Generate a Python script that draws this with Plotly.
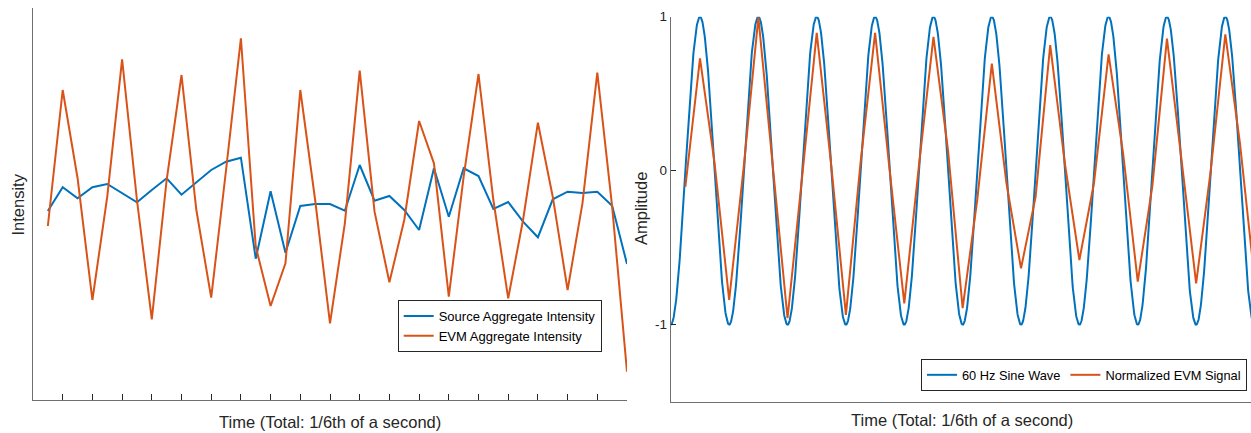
import numpy as np
import plotly.graph_objects as go

# ---------------- data ----------------
# Left panel: 40 frames (240 fps over 1/6 s), arbitrary intensity units
frames = list(range(1, 41))
source_intensity = [189, 212.7, 201.7, 212.7, 216, 206.7, 197.7, 210, 221.7, 205.3,
                    217.3, 230, 238.3, 242.3, 141.3, 208.7, 147.3, 194, 196, 196,
                    189.3, 235, 199.3, 204, 190, 170, 231.7, 183.3, 231.7, 224,
                    191, 198, 178.3, 162.7, 200.7, 208.3, 207, 208.3, 194.3, 136]
evm_intensity = [174, 310, 222, 100, 203.3, 340.7, 200, 80.7, 220, 325,
                 190, 102.3, 230, 361.7, 153.3, 94, 136.7, 310, 200, 76.7,
                 176.7, 329.3, 188.3, 117.7, 180, 279, 236.7, 103.3, 223.3, 326,
                 200, 101.7, 180, 277.3, 203.3, 110, 196.7, 327.3, 193.3, 28.3]

# Right panel: normalized EVM signal sampled at 240 Hz
sample_rate = 240
evm_norm = [-0.104, 0.729, 0.05, -0.839, 0.026, 0.995, 0.02, -0.958, -0.04, 0.895,
            0.03, -0.936, 0.05, 0.895, 0.0, -0.861, 0.03, 0.869, 0.13, -0.893,
            -0.19, 0.696, -0.08, -0.634, -0.17, 0.815, 0.05, -0.58, -0.08, 0.755,
            0.11, -0.72, -0.10, 0.858, 0.07, -0.731, 0.0, 0.886, 0.18, -0.70]
evm_time = [k / sample_rate for k in range(1, len(evm_norm) + 1)]

# 60 Hz reference sine wave over 1/6 s (starts at a trough)
sine_freq = 60
duration = 1 / 6
t_sine = np.linspace(0, duration, 2000)
sine_wave = -np.cos(2 * np.pi * sine_freq * t_sine)

# labels
x_title = "Time (Total: 1/6th of a second)"
left_y_title = "Intensity"
right_y_title = "Amplitude"
left_names = ["Source Aggregate Intensity", "EVM Aggregate Intensity"]
right_names = ["60 Hz Sine Wave", "Normalized EVM Signal"]
amp_ticks = [-1, 0, 1]

# ---------------- style ----------------
BLUE = "#0072BD"
ORANGE = "#D95319"
AX = "#262626"
AXLINE = "#707070"
FONT = "Liberation Sans, Arial, sans-serif"
W, H = 1251, 433

fig = go.Figure()
fig.add_trace(go.Scatter(x=frames, y=source_intensity, mode="lines", name=left_names[0],
                         line=dict(color=BLUE, width=2), xaxis="x", yaxis="y", legend="legend"))
fig.add_trace(go.Scatter(x=frames, y=evm_intensity, mode="lines", name=left_names[1],
                         line=dict(color=ORANGE, width=2), xaxis="x", yaxis="y", legend="legend"))
fig.add_trace(go.Scatter(x=t_sine, y=sine_wave, mode="lines", name=right_names[0],
                         line=dict(color=BLUE, width=2), xaxis="x2", yaxis="y2", legend="legend2"))
fig.add_trace(go.Scatter(x=evm_time, y=evm_norm, mode="lines", name=right_names[1],
                         line=dict(color=ORANGE, width=2), xaxis="x2", yaxis="y2", legend="legend2"))

# pixel geometry helpers
def px_x(p):
    return p / W

def px_y(p):
    return (H - p) / H

t_end = (1251 - 670.8) / 583.7 * duration

fig.update_layout(
    width=W, height=H,
    margin=dict(l=0, r=0, t=0, b=0, pad=0, autoexpand=False),
    paper_bgcolor="white", plot_bgcolor="white",
    font=dict(family=FONT, color=AX, size=13),
    xaxis=dict(domain=[px_x(33), px_x(627)], range=[0, 40], anchor="y",
               showline=True, linecolor=AXLINE, linewidth=1,
               ticks="inside", ticklen=6, tickcolor=AX, tickvals=list(range(2, 41, 2)),
               showticklabels=False, showgrid=False, zeroline=False),
    yaxis=dict(domain=[px_y(400), px_y(8)], range=[0, 392], anchor="x",
               showline=True, linecolor=AXLINE, linewidth=1,
               ticks="", showticklabels=False, showgrid=False, zeroline=False),
    xaxis2=dict(domain=[px_x(670.8), 1.0], range=[0, t_end], anchor="y2",
                showline=True, linecolor=AXLINE, linewidth=1,
                ticks="", showticklabels=False, showgrid=False, zeroline=False),
    yaxis2=dict(domain=[px_y(401.7), px_y(16.7)], range=[-1.5, 1], anchor="x2",
                showline=True, linecolor=AXLINE, linewidth=1,
                ticks="inside", ticklen=5, tickcolor=AX,
                tickvals=amp_ticks, ticktext=[str(v) for v in amp_ticks],
                tickfont=dict(size=13.5, color=AX),
                showgrid=False, zeroline=False),
    legend=dict(x=px_x(397.7), y=px_y(326), xanchor="left", yanchor="middle",
                bgcolor="white", bordercolor=AX, borderwidth=1,
                font=dict(size=13, color="#000000"), itemwidth=30,
                tracegroupgap=0),
    legend2=dict(x=px_x(921), y=px_y(375), xanchor="left", yanchor="middle",
                 orientation="h", bgcolor="white", bordercolor=AX, borderwidth=1,
                 font=dict(size=12.8, color="#000000"), itemwidth=30),
    showlegend=True,
    annotations=[
        dict(text=x_title, x=px_x(330), y=px_y(422), xref="paper", yref="paper",
             showarrow=False, font=dict(size=16.5, color=AX), xanchor="center", yanchor="middle"),
        dict(text=x_title, x=px_x(962), y=px_y(420), xref="paper", yref="paper",
             showarrow=False, font=dict(size=16.5, color=AX), xanchor="center", yanchor="middle"),
        dict(text=left_y_title, x=px_x(18), y=px_y(204.5), xref="paper", yref="paper",
             showarrow=False, textangle=-90, font=dict(size=16.5, color=AX),
             xanchor="center", yanchor="middle"),
        dict(text=right_y_title, x=px_x(641), y=px_y(209), xref="paper", yref="paper",
             showarrow=False, textangle=-90, font=dict(size=16.5, color=AX),
             xanchor="center", yanchor="middle"),
    ],
)

fig.write_html("out.html", config={"displayModeBar": False},
               post_script="document.body.style.margin='0px';document.body.style.overflow='hidden';")
